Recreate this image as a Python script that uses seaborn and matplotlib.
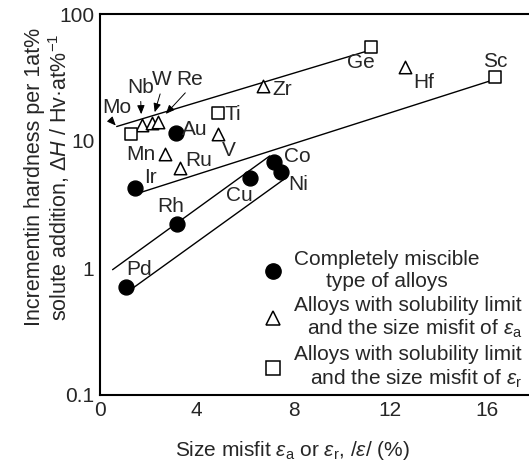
import pandas as pd
import matplotlib.pyplot as plt
import seaborn as sns
from matplotlib.lines import Line2D
from matplotlib.ticker import LogLocator, NullFormatter, FixedLocator

# --- data ------------------------------------------------------------------
elements = ["Au", "Ir", "Cu", "Co", "Ni", "Rh", "Pd",
            "Nb", "W", "Re", "V", "Mn", "Ru", "Zr", "Hf",
            "Mo", "Ti", "Ge", "Sc"]
misfit = [3.14, 1.45, 6.2, 7.19, 7.5, 3.17, 1.07,
          1.72, 2.13, 2.41, 4.89, 2.69, 3.31, 6.72, 12.6,
          1.3, 4.89, 11.2, 16.35]
hardness = [11.6, 4.3, 5.1, 6.84, 5.75, 2.24, 0.71,
            13.3, 13.9, 14.1, 11.3, 7.87, 6.18, 27.0, 38.1,
            11.3, 16.7, 54.8, 31.8]
alloy_type = ["miscible"] * 7 + ["limit_a"] * 8 + ["limit_r"] * 4

# trend lines (start, end)
line_x = [(0.69, 11.02), (1.58, 16.1), (0.52, 7.02), (1.31, 7.71)]
line_y = [(13.0, 50.9), (3.88, 29.6), (0.97, 7.63), (0.684, 5.16)]

legend_labels = ["Completely miscible\ntype of alloys",
                 "Alloys with solubility limit\nand the size misfit of $\\mathit{ε}_{\\mathrm{a}}$",
                 "Alloys with solubility limit\nand the size misfit of $\\mathit{ε}_{\\mathrm{r}}$"]

# label offsets from the marker, in pixels (dx right, dy up)
label_offset = {"Au": (19, 3), "Ir": (15, 10), "Cu": (-11, -17), "Co": (23, 5),
                "Ni": (17, -13), "Rh": (-6, 17), "Pd": (13, 17), "V": (11, -16),
                "Mn": (-24, 0), "Ru": (19, 7), "Zr": (20, -3), "Hf": (19, -15),
                "Ti": (15, -2), "Ge": (-10, -15), "Sc": (0, 16)}
arrow_offset = {"Nb": (-1, 38), "W": (10, 43), "Re": (31, 43)}

df = pd.DataFrame({"element": elements, "misfit": misfit,
                   "hardness": hardness, "type": alloy_type})

FS = 15
sns.set_theme(style="white")
plt.rcParams["font.family"] = ["Liberation Sans", "DejaVu Sans"]
plt.rcParams["mathtext.fontset"] = "custom"
plt.rcParams["mathtext.rm"] = "Liberation Sans"
plt.rcParams["mathtext.it"] = "Liberation Sans:italic"
plt.rcParams["font.size"] = FS

px = 72 / 100
fig = plt.figure(figsize=(5.29, 4.72), dpi=100)
ax = fig.add_axes([100 / 529, 77 / 472, 429 / 529, 381 / 472])

for (x0, x1), (y0, y1) in zip(line_x, line_y):
    ax.plot([x0, x1], [y0, y1], color="black", lw=1.0, zorder=2)

styles = {"miscible": dict(marker="o", s=115, color="black", edgecolor="black", linewidth=1),
          "limit_a": dict(marker="^", s=80, color="white", edgecolor="black", linewidth=1.1),
          "limit_r": dict(marker="s", s=68, color="white", edgecolor="black", linewidth=1.1)}
for t, kw in styles.items():
    sns.scatterplot(data=df[df["type"] == t], x="misfit", y="hardness", ax=ax,
                    legend=False, zorder=3, **kw)

arrow_kw = dict(arrowstyle="-|>,head_length=0.35,head_width=0.15",
                color="black", lw=0.7, shrinkA=1)
for _, r in df.iterrows():
    el = r["element"]
    if el in label_offset:
        dx, dy = label_offset[el]
        ax.annotate(el, (r["misfit"], r["hardness"]), xytext=(dx * px, dy * px),
                    textcoords="offset points", ha="center", va="center", fontsize=FS)
    elif el in arrow_offset:
        dx, dy = arrow_offset[el]
        ax.annotate(el, (r["misfit"], r["hardness"]), xytext=(dx * px, dy * px),
                    textcoords="offset points", ha="center", va="center", fontsize=FS,
                    arrowprops=dict(shrinkB=8, relpos=(0.5, 0), **arrow_kw))

# Mo label points at the start of the upper trend line
ax.annotate("Mo", (line_x[0][0], line_y[0][0]), xytext=(0, 19 * px),
            textcoords="offset points", ha="center", va="center", fontsize=FS,
            arrowprops=dict(shrinkB=1, relpos=(0.2, 0), **arrow_kw))

ax.set_yscale("log")
ax.set_xlim(0, 17.74)
ax.set_ylim(0.1, 100)
ax.xaxis.set_major_locator(FixedLocator([0, 4, 8, 12, 16]))
ax.xaxis.set_minor_locator(FixedLocator([2, 6, 10, 14]))
ax.set_xticklabels(["0", "4", "8", "12", "16"])
ax.yaxis.set_major_locator(LogLocator(base=10))
ax.yaxis.set_minor_locator(LogLocator(base=10, subs=range(2, 10)))
ax.yaxis.set_minor_formatter(NullFormatter())
ax.yaxis.set_major_formatter(plt.FuncFormatter(lambda v, p: f"{v:g}"))
ax.tick_params(which="both", direction="in", top=False, right=False,
               labelsize=FS, width=1.2, color="black")
ax.tick_params(which="major", length=6, pad=4)
ax.tick_params(which="minor", length=5)

for side in ["left", "bottom", "top"]:
    ax.spines[side].set_linewidth(1.5)
    ax.spines[side].set_color("black")
ax.spines["right"].set_visible(False)

ax.set_xlabel("Size misfit $\\mathit{ε}_{\\mathrm{a}}$ or $\\mathit{ε}_{\\mathrm{r}}$, /$\\mathit{ε}$/ (%)",
              fontsize=FS)
ax.xaxis.set_label_coords(192 / 429, -0.115)
ax.set_ylabel("Incrementin hardness per 1at%\nsolute addition, $\\mathit{ΔH}$ / Hv·at%$^{-1}$",
              fontsize=15.5, multialignment="center", linespacing=1.05)
ax.yaxis.set_label_coords(-0.065, 0.572)

handles = [Line2D([], [], ls="", marker="o", ms=11, mfc="black", mec="black"),
           Line2D([], [], ls="", marker="^", ms=10, mfc="white", mec="black", mew=1.1),
           Line2D([], [], ls="", marker="s", ms=10, mfc="white", mec="black", mew=1.1)]
leg = ax.legend(handles, legend_labels, loc="upper left", bbox_to_anchor=(0.38, 0.38),
                frameon=False, fontsize=FS, handlelength=1.0, handletextpad=0.5,
                labelspacing=0.25, borderpad=0, borderaxespad=0)
for i, txt in enumerate(leg.get_texts()):
    txt.set_multialignment("center" if i == 0 else "right")
    txt.set_linespacing(1.17)

fig.savefig("out.png", dpi=100)
